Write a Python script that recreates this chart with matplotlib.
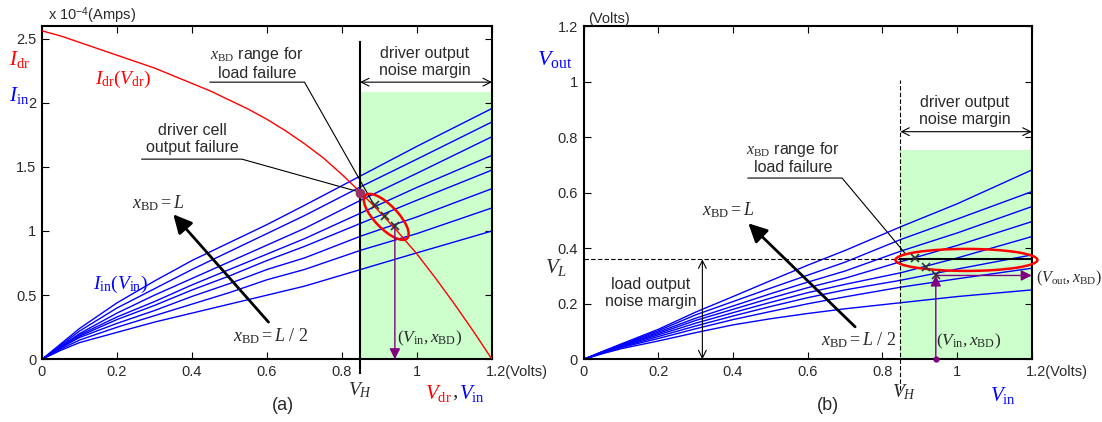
import matplotlib
matplotlib.use('Agg')
import matplotlib.pyplot as plt
import matplotlib.transforms as mtransforms
from matplotlib.patches import Ellipse, FancyArrowPatch

plt.rcParams['font.family'] = ['Liberation Sans', 'DejaVu Sans']
plt.rcParams['mathtext.fontset'] = 'custom'
plt.rcParams['mathtext.rm'] = 'Liberation Serif'
plt.rcParams['mathtext.it'] = 'Liberation Serif:italic'
plt.rcParams['mathtext.sf'] = 'Liberation Sans'

# sweep points (Volts)
v = [0, 0.05, 0.1, 0.2, 0.3, 0.4, 0.5, 0.6, 0.7, 0.85, 1.0, 1.2]

# (a) load input current for x_BD = L/2 ... L  (x 1e-4 A)
i_in = [
    [0, 0.07, 0.13, 0.21, 0.29, 0.36, 0.43, 0.50, 0.57, 0.70, 0.83, 1.00],
    [0, 0.08, 0.15, 0.25, 0.34, 0.43, 0.52, 0.62, 0.70, 0.85, 0.98, 1.18],
    [0, 0.09, 0.17, 0.28, 0.38, 0.49, 0.59, 0.70, 0.79, 0.96, 1.11, 1.33],
    [0, 0.09, 0.18, 0.31, 0.42, 0.54, 0.65, 0.77, 0.88, 1.06, 1.24, 1.475],
    [0, 0.10, 0.19, 0.33, 0.45, 0.58, 0.70, 0.82, 0.94, 1.14, 1.34, 1.59],
    [0, 0.10, 0.20, 0.36, 0.50, 0.63, 0.76, 0.89, 1.02, 1.24, 1.45, 1.735],
    [0, 0.11, 0.22, 0.40, 0.55, 0.70, 0.84, 0.98, 1.12, 1.345, 1.56, 1.85],
    [0, 0.12, 0.24, 0.44, 0.61, 0.77, 0.91, 1.05, 1.20, 1.43, 1.66, 1.955],
]

# driver output current
v_dr = [0, 0.05, 0.1, 0.15, 0.2, 0.25, 0.3, 0.35, 0.4, 0.45, 0.5, 0.55, 0.6,
        0.65, 0.7, 0.75, 0.8, 0.85, 0.9, 0.95, 1.0, 1.05, 1.1, 1.15, 1.2]
i_dr = [2.56, 2.52, 2.47, 2.42, 2.37, 2.32, 2.27, 2.21, 2.15, 2.09, 2.02, 1.95, 1.87,
        1.78, 1.68, 1.57, 1.44, 1.30, 1.15, 0.99, 0.82, 0.63, 0.43, 0.22, 0.0]

# (b) load output voltage for x_BD = L/2 ... L
v_out = [
    [0, 0.020, 0.038, 0.066, 0.096, 0.124, 0.146, 0.165, 0.182, 0.204, 0.226, 0.250],
    [0, 0.022, 0.042, 0.075, 0.110, 0.143, 0.172, 0.200, 0.225, 0.260, 0.290, 0.328],
    [0, 0.023, 0.044, 0.082, 0.120, 0.156, 0.190, 0.222, 0.250, 0.285, 0.325, 0.376],
    [0, 0.024, 0.046, 0.088, 0.130, 0.168, 0.205, 0.240, 0.270, 0.312, 0.365, 0.442],
    [0, 0.025, 0.048, 0.093, 0.140, 0.180, 0.220, 0.258, 0.292, 0.352, 0.410, 0.496],
    [0, 0.026, 0.050, 0.098, 0.148, 0.192, 0.236, 0.278, 0.318, 0.390, 0.455, 0.550],
    [0, 0.027, 0.052, 0.103, 0.160, 0.208, 0.256, 0.303, 0.350, 0.432, 0.505, 0.604],
    [0, 0.028, 0.055, 0.108, 0.170, 0.226, 0.283, 0.339, 0.392, 0.478, 0.560, 0.682],
]

VH = 0.848
VL = 0.36
fail_a_x = [0.889, 0.914, 0.941]
fail_a_y = [1.20, 1.12, 1.04]
fail_b_x = [0.887, 0.916, 0.943]
fail_b_y = [0.366, 0.331, 0.302]
op_point = (0.848, 1.30)

W, H = 1102, 422
TXT = '#2a2a2a'
PURPLE = '#800080'
GREEN = '#ccffcc'

fig = plt.figure(figsize=(W / 100, H / 100), dpi=100)
axa = fig.add_axes([42 / W, 1 - 359.3 / H, 450 / W, 333.6 / H])
axb = fig.add_axes([583.6 / W, 1 - 359.3 / H, 448.2 / W, 333.1 / H])


def ftext(px, py, s, **kw):
    kw.setdefault('color', TXT)
    fig.text(px / W, 1 - py / H, s, ha=kw.pop('ha', 'center'), va=kw.pop('va', 'center'), **kw)


def arrow(ax, p0, p1, style, ms, lw, color='k', clip=True, z=4):
    a = FancyArrowPatch(p0, p1, arrowstyle=style, mutation_scale=ms, lw=lw, color=color,
                        shrinkA=0, shrinkB=0, zorder=z)
    a.set_clip_on(clip)
    ax.add_patch(a)


def ellipse(ax, cx, cy, w_in, h_in, angle, clip=True):
    tr = fig.dpi_scale_trans + mtransforms.ScaledTranslation(cx, cy, ax.transData)
    e = Ellipse((0, 0), w_in, h_in, angle=angle, transform=tr, fill=False,
                ec='red', lw=1.8, zorder=6)
    e.set_clip_on(clip)
    ax.add_patch(e)


for ax in (axa, axb):
    ax.set_xlim(0, 1.2)
    ax.set_xticks([0, 0.2, 0.4, 0.6, 0.8, 1.0, 1.2])
    ax.set_xticklabels(['0', '0.2', '0.4', '0.6', '0.8', '1', ''])
    ax.tick_params(direction='in', top=True, right=True, length=5, width=0.8,
                   labelsize=10.5, pad=4, labelcolor=TXT)
    for s in ax.spines.values():
        s.set_linewidth(1.5)
    ax.annotate('1.2(Volts)', xy=(1.2, 0), xytext=(-4.5, -4), textcoords='offset points',
                ha='left', va='top', fontsize=10.5, color=TXT, annotation_clip=False)

# ---------------- (a) currents ----------------
axa.set_ylim(0, 2.6)
axa.set_yticks([0, 0.5, 1, 1.5, 2, 2.5])
axa.set_yticklabels(['0', '0.5', '1', '1.5', '2', '2.5'])
axa.fill_between([VH, 1.2], 0, 2.08, color=GREEN, lw=0, zorder=0)
for c in i_in:
    axa.plot(v, c, color='#0000ff', lw=1.0, zorder=2)
axa.plot(v_dr, i_dr, color='#ff0000', lw=1.0, zorder=3)
axa.plot([VH, VH], [-0.11, 2.475], color='k', lw=1.5, clip_on=False, zorder=5)
arrow(axa, (VH, 2.16), (1.2, 2.16), '<->', 14, 0.8)
axa.text(1.02, 2.32, 'driver output\nnoise margin', ha='center', va='center', fontsize=11.5,
         color=TXT, linespacing=1.15)

axa.text(0.573, 2.31, '$x_{\\mathrm{BD}}$ range for\nload failure', ha='center', va='center',
         fontsize=11.5, color=TXT, linespacing=1.15)
axa.plot([0.448, 0.70, 0.884], [2.16, 2.16, 1.21], color='k', lw=0.8, zorder=5)
axa.text(0.40, 1.715, 'driver cell\noutput failure', ha='center', va='center', fontsize=11.5,
         color=TXT, linespacing=1.15)
axa.plot([0.266, 0.533, 0.845], [1.56, 1.56, 1.305], color='k', lw=0.8, zorder=5)

axa.plot(*op_point, 'o', color='#993366', ms=6, zorder=6)
axa.plot(fail_a_x, fail_a_y, 'x', color='#333333', ms=6, mew=1.2, zorder=7)
ellipse(axa, 0.918, 1.11, 0.60, 0.23, -46)
arrow(axa, (fail_a_x[2], fail_a_y[2]), (fail_a_x[2], 0.0), '-|>', 16, 1.0, PURPLE, z=6)
axa.text(1.033, 0.16, '$(V_{\\mathrm{in}},x_{\\mathrm{BD}})$', ha='center', va='center',
         fontsize=12.5, color=TXT)

axa.text(0.31, 1.216, '$x_{\\mathrm{BD}}=L$', ha='center', va='center', fontsize=13, color=TXT)
arrow(axa, (0.604, 0.29), (0.35, 1.13), '-|>', 28, 2.0)
axa.text(0.61, 0.18, '$x_{\\mathrm{BD}}=L\\ /\\ 2$', ha='center', va='center', fontsize=13,
         color=TXT)
axa.text(0.217, 2.185, '$I_{\\mathrm{dr}}(V_{\\mathrm{dr}})$', ha='center', va='center',
         fontsize=14, color='#ff0000')
axa.text(0.208, 0.587, '$I_{\\mathrm{in}}(V_{\\mathrm{in}})$', ha='center', va='center',
         fontsize=14, color='#0000ff')

ftext(48, 16, 'x 10$^{\\mathsf{-4}}$(Amps)', ha='left', fontsize=10.5)
ftext(20, 60, '$I_{\\mathrm{dr}}$', fontsize=15, color='#ff0000')
ftext(19, 96, '$I_{\\mathrm{in}}$', fontsize=15, color='#0000ff')
ftext(360, 390, '$V_H$', fontsize=14)
ftext(452, 393, '$V_{\\mathrm{dr}}$', ha='right', fontsize=15, color='#ff0000')
ftext(455, 393, '$,$', fontsize=15)
ftext(459, 393, '$V_{\\mathrm{in}}$', ha='left', fontsize=15, color='#0000ff')
ftext(283, 405, '(a)', fontsize=13)

# ---------------- (b) voltages ----------------
axb.set_ylim(0, 1.2)
axb.set_yticks([0, 0.2, 0.4, 0.6, 0.8, 1.0, 1.2])
axb.set_yticklabels(['0', '0.2', '0.4', '0.6', '0.8', '1', '1.2'])
axb.fill_between([VH, 1.2], 0, 0.755, color=GREEN, lw=0, zorder=0)
for c in v_out:
    axb.plot(v, c, color='#0000ff', lw=1.0, zorder=2)
axb.plot([VH, VH], [-0.11, 1.006], color='k', lw=0.8, ls=(0, (4, 2)), clip_on=False, zorder=5)
axb.plot([0, VH], [VL, VL], color='k', lw=0.8, ls=(0, (4, 2)), zorder=5)
axb.plot([VH, 1.2], [VL, VL], color='k', lw=1.5, zorder=5)
arrow(axb, (VH, 0.82), (1.2, 0.82), '<->', 14, 0.8)
axb.text(1.02, 0.895, 'driver output\nnoise margin', ha='center', va='center', fontsize=11.5,
         color=TXT, linespacing=1.15)
arrow(axb, (0.318, 0.0), (0.318, VL), '<->', 14, 0.8)
axb.text(0.18, 0.24, 'load output\nnoise margin', ha='center', va='center', fontsize=11.5,
         color=TXT, linespacing=1.15)

axb.text(0.56, 0.727, '$x_{\\mathrm{BD}}$ range for\nload failure', ha='center', va='center',
         fontsize=11.5, color=TXT, linespacing=1.15)
axb.plot([0.44, 0.692, 0.86], [0.653, 0.653, 0.383], color='k', lw=0.8, zorder=5)

axb.plot(fail_b_x, fail_b_y, 'x', color='#333333', ms=6, mew=1.2, zorder=7)
ellipse(axb, 1.025, 0.358, 1.42, 0.22, 0, clip=False)
axb.plot([fail_b_x[2]], [0.0], 'o', color=PURPLE, ms=3.5, clip_on=False, zorder=6)
arrow(axb, (fail_b_x[2], 0.0), (fail_b_x[2], fail_b_y[2]), '-|>', 16, 1.0, PURPLE, z=6)
arrow(axb, (fail_b_x[2], fail_b_y[2]), (1.2, fail_b_y[2]), '-|>', 16, 1.0, PURPLE, z=6)
axb.text(1.03, 0.063, '$(V_{\\mathrm{in}},x_{\\mathrm{BD}})$', ha='center', va='center',
         fontsize=12.5, color=TXT)
axb.text(1.21, 0.29, '$(V_{\\mathrm{out}},x_{\\mathrm{BD}})$', ha='left', va='center',
         fontsize=11.5, color=TXT, clip_on=False)

axb.text(0.387, 0.538, '$x_{\\mathrm{BD}}=L$', ha='center', va='center', fontsize=13, color=TXT)
arrow(axb, (0.727, 0.117), (0.441, 0.49), '-|>', 28, 2.0)
axb.text(0.735, 0.07, '$x_{\\mathrm{BD}}=L\\ /\\ 2$', ha='center', va='center', fontsize=13,
         color=TXT)

ftext(588, 19, '(Volts)', ha='left', fontsize=10.5)
ftext(555, 60, '$V_{\\mathrm{out}}$', fontsize=16, color='#0000ff')
ftext(556, 268, '$V_L$', fontsize=15)
ftext(904, 392, '$V_H$', fontsize=14)
ftext(1003, 396, '$V_{\\mathrm{in}}$', fontsize=15, color='#0000ff')
ftext(828, 405, '(b)', fontsize=13)

fig.savefig('out.png', dpi=100)
